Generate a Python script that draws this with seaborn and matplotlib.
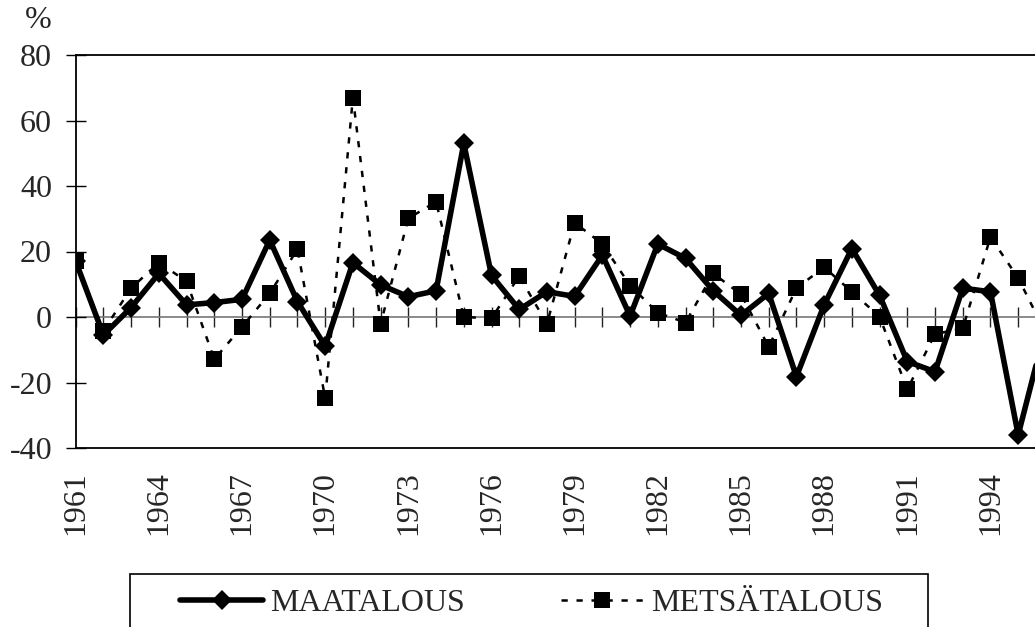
"""Annual change chart: MAATALOUS vs METSÄTALOUS, 1961-1996."""

import matplotlib
matplotlib.use("Agg")
import matplotlib.pyplot as plt
import pandas as pd
import seaborn as sns
from matplotlib.patches import Rectangle

years = list(range(1961, 1997))
maatalous = [17, -5.5, 2.9, 13.3, 3.7, 4.4, 5.4, 23.5, 4.7, -8.9,
             16.6, 9.8, 6.2, 8.0, 53.0, 12.7, 2.3, 7.7, 6.3, 18.9,
             0.3, 22.3, 17.9, 8.0, 0.5, 7.2, -18.2, 3.7, 20.9, 6.6,
             -13.6, -16.7, 8.8, 7.7, -36.0, -3.0]
metsatalous = [17, -4.2, 8.8, 16.6, 10.9, -12.9, -3.0, 7.2, 20.7, -24.8,
               67.0, -2.1, 30.1, 35.2, 0.0, -0.4, 12.5, -2.1, 28.8, 22.3,
               9.6, 1.3, -1.7, 13.3, 6.9, -9.1, 8.8, 15.2, 7.7, 0.1,
               -22.1, -5.2, -3.5, 24.4, 11.9, -5.0]
yticks = [-40, -20, 0, 20, 40, 60, 80]
xticklabels = list(range(1961, 1997, 3))

df = pd.DataFrame({"year": years, "MAATALOUS": maatalous, "METSÄTALOUS": metsatalous})

sns.set_style("white")
plt.rcParams["font.family"] = ["Liberation Serif", "DejaVu Serif"]
FS = 23

W, H = 1035, 627
fig = plt.figure(figsize=(W / 100, H / 100), dpi=100)
left_px, top_px, bottom_px = 75.7, 55, 448
year_px = 27.72
xmin, xmax = 1961, 1997
ax = fig.add_axes([left_px / W, 1 - bottom_px / H,
                   (xmax - xmin) * year_px / W, (bottom_px - top_px) / H])

sns.lineplot(data=df, x="year", y="METSÄTALOUS", ax=ax, color="black",
             linewidth=1.8, marker="s", markersize=11,
             markeredgewidth=0, label="METSÄTALOUS")
ax.lines[-1].set_dashes([2.5, 3.5])
sns.lineplot(data=df, x="year", y="MAATALOUS", ax=ax, color="black",
             linewidth=4.0, marker="D", markersize=10,
             markeredgewidth=0, label="MAATALOUS")
handles, labels = ax.get_legend_handles_labels()
ax.get_legend().remove()

ax.set_xlim(xmin, xmax)
ax.set_ylim(-40, 80)
ax.set_xlabel("")
ax.set_ylabel("")

for side in ["left", "top", "bottom"]:
    ax.spines[side].set_visible(True)
    ax.spines[side].set_color("black")
    ax.spines[side].set_linewidth(1.3)
ax.spines["right"].set_visible(False)

ax.set_yticks(yticks)
ax.set_yticklabels([str(v) for v in yticks])
ax.tick_params(axis="y", direction="inout", length=14, width=1.0,
               color="black", labelsize=FS, pad=10, left=True)
ax.set_xticks(xticklabels)
ax.set_xticklabels([str(v) for v in xticklabels], rotation=90)
ax.tick_params(axis="x", length=0, labelsize=FS, pad=17, bottom=True)

# category axis crossing at zero
zero_ax = ax.secondary_xaxis((0 - (-40)) / 120)
zero_ax.set_xticks(years)
zero_ax.tick_params(direction="inout", length=14.5, width=1.0, color="#222222",
                    labelbottom=False, labeltop=False)
zero_ax.spines["bottom"].set_color("#777777")
zero_ax.spines["bottom"].set_linewidth(1.2)

fig.text(38 / W, 1 - 21 / H, "%", fontsize=FS, ha="center", va="center")

# legend box (cropped at the bottom edge, as in the source)
fig.patches.append(Rectangle((130 / W, -0.05), 798 / W, 1 - 574 / H + 0.05,
                             transform=fig.transFigure, fill=False,
                             edgecolor="black", linewidth=1.2))
order = [labels.index("MAATALOUS"), labels.index("METSÄTALOUS")]
fig.legend([handles[i] for i in order], [labels[i] for i in order],
           loc="center left",
           bbox_to_anchor=(180 / W, 1 - 603 / H, 703 / W, 0),
           mode="expand", ncol=2, fontsize=FS, frameon=False,
           handlelength=2.6, handletextpad=0.22,
           borderpad=0, borderaxespad=0)

fig.savefig("out.png", dpi=100, facecolor="white")
